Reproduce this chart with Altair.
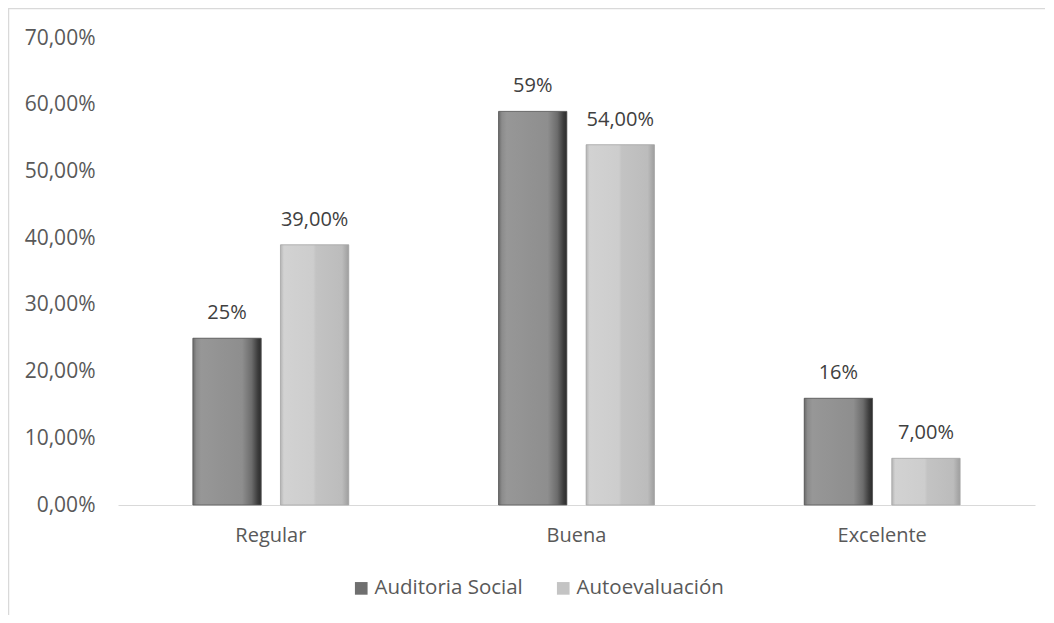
import altair as alt
import pandas as pd

categories = ["Regular", "Buena", "Excelente"]
series = ["Auditoria Social", "Autoevaluación"]
auditoria = [0.25, 0.59, 0.16]
autoevaluacion = [0.39, 0.54, 0.07]
auditoria_labels = ["25%", "59%", "16%"]
autoevaluacion_labels = ["39,00%", "54,00%", "7,00%"]
y_ticks = [0.0, 0.1, 0.2, 0.3, 0.4, 0.5, 0.6, 0.7]

rows = []
for i, c in enumerate(categories):
    rows.append({"cat": c, "serie": series[0], "val": auditoria[i], "label": auditoria_labels[i]})
    rows.append({"cat": c, "serie": series[1], "val": autoevaluacion[i], "label": autoevaluacion_labels[i]})
df = pd.DataFrame(rows)

FONT = "Open Sans"

x_enc = alt.X("cat:N", sort=categories,
              scale=alt.Scale(domain=categories, paddingInner=0.49, paddingOuter=0.245),
              axis=alt.Axis(title=None, labelAngle=0, ticks=False, domainColor="#d9d9d9",
                            domainWidth=1, labelPadding=20, labelFontSize=20,
                            labelColor="#595959", labelFont=FONT, grid=False))
xoff_enc = alt.XOffset("serie:N", sort=series, scale=alt.Scale(domain=series, paddingInner=0.22))
y_enc = alt.Y("val:Q", scale=alt.Scale(domain=[0, 0.7]),
              axis=alt.Axis(title=None, values=y_ticks,
                            labelExpr="replace(format(datum.value, '.2%'), '.', ',')",
                            domain=False, ticks=False, grid=False, labelPadding=23,
                            labelFontSize=21, labelColor="#595959", labelFont=FONT))

base = alt.Chart(df)

solid = base.mark_bar().encode(
    x=x_enc, xOffset=xoff_enc, y=y_enc,
    color=alt.Color("serie:N", sort=series,
                    scale=alt.Scale(domain=series, range=["#6f6f6f", "#c4c4c4"]),
                    legend=alt.Legend(title=None, orient="none", legendX=233, legendY=540,
                                      direction="horizontal", columns=2, symbolType="square",
                                      symbolSize=160, symbolStrokeWidth=0, labelFontSize=20.5,
                                      labelFont=FONT, labelColor="#595959", labelOffset=3,
                                      columnPadding=30)),
)

dark_grad = alt.Gradient(
    gradient="linear", x1=0, x2=1, y1=0, y2=0,
    stops=[
        alt.GradientStop(offset=0.0, color="#6a6a6a"),
        alt.GradientStop(offset=0.05, color="#8c8c8c"),
        alt.GradientStop(offset=0.12, color="#979797"),
        alt.GradientStop(offset=0.72, color="#8e8e8e"),
        alt.GradientStop(offset=0.86, color="#6c6c6c"),
        alt.GradientStop(offset=0.95, color="#3c3c3c"),
        alt.GradientStop(offset=1.0, color="#2c2c2c"),
    ],
)
light_grad = alt.Gradient(
    gradient="linear", x1=0, x2=1, y1=0, y2=0,
    stops=[
        alt.GradientStop(offset=0.0, color="#b4b4b4"),
        alt.GradientStop(offset=0.05, color="#d2d2d2"),
        alt.GradientStop(offset=0.48, color="#cdcdcd"),
        alt.GradientStop(offset=0.52, color="#c3c3c3"),
        alt.GradientStop(offset=0.9, color="#bcbcbc"),
        alt.GradientStop(offset=1.0, color="#9e9e9e"),
    ],
)

dark = base.transform_filter(alt.datum.serie == series[0]).mark_bar(
    fill=dark_grad, stroke="#5c5c5c", strokeWidth=0.8
).encode(x=x_enc, xOffset=xoff_enc, y=y_enc)

light = base.transform_filter(alt.datum.serie == series[1]).mark_bar(
    fill=light_grad, stroke="#a8a8a8", strokeWidth=0.8
).encode(x=x_enc, xOffset=xoff_enc, y=y_enc)

labels = base.mark_text(baseline="alphabetic", dy=-19, fontSize=20, font=FONT,
                        color="#404040").encode(
    x=x_enc, xOffset=xoff_enc, y=y_enc, text="label:N")

frame_df = pd.DataFrame({"k": [0]})
left_line = alt.Chart(frame_df).mark_rule(color="#d9d9d9", strokeWidth=1.5).encode(
    x=alt.value(-109.5), y=alt.value(-30), y2=alt.value(600))
top_line = alt.Chart(frame_df).mark_rule(color="#d9d9d9", strokeWidth=1.5).encode(
    x=alt.value(-110), x2=alt.value(940), y=alt.value(-29.5))

chart = alt.layer(solid, dark, light, labels, left_line, top_line).properties(
    width=917, height=467,
    padding={"left": 110, "top": 30, "right": 10, "bottom": 110},
    autosize="none",
).configure_view(stroke=None)

chart.save("out.html", embed_options={"renderer": "svg", "actions": False})
